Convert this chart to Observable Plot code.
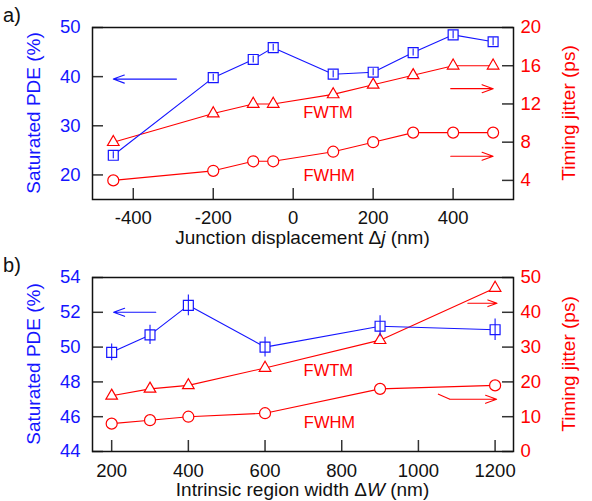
<!DOCTYPE html>
<html><head><meta charset="utf-8">
<script src="https://cdn.jsdelivr.net/npm/d3@7"></script>
<script src="https://cdn.jsdelivr.net/npm/@observablehq/plot@0.6"></script>
<style>
body{margin:0;background:#fff}
#chart{width:592px;height:501px}
#chart svg{display:block}
</style>
</head><body><div id="chart"></div>
<script>
// ---------- Panel a data ----------
const aX = [-450, -200, -100, -50, 100, 200, 300, 400, 500];
const aPDE = [24.0, 39.8, 43.5, 45.9, 40.5, 40.9, 44.9, 48.5, 47.1];
const aPDEerr = [0.7, 0.7, 0.7, 0.7, 0.7, 0.7, 0.7, 0.8, 0.8];
const aFWTM = [8, 11, 12, 12, 13, 14, 15, 16, 16];
const aFWHM = [4, 5, 6, 6, 7, 8, 9, 9, 9];
const aXTicks = [-400, -200, 0, 200, 400];
const aLeftTicks = [20, 30, 40, 50];
const aRightTicks = [4, 8, 12, 16, 20];

// ---------- Panel b data ----------
const bX = [200, 300, 400, 600, 900, 1200];
const bPDE = [49.7, 50.7, 52.4, 50.0, 51.2, 51.0];
const bPDEerr = [0.48, 0.55, 0.6, 0.57, 0.6, 0.62];
const bFWTM = [16, 18, 19, 24, 32, 47];
const bFWHM = [8, 9, 10, 11, 18, 19];
const bXTicks = [200, 400, 600, 800, 1000, 1200];
const bLeftTicks = [44, 46, 48, 50, 52, 54];
const bRightTicks = [0, 10, 20, 30, 40, 50];

const FONT = "'Liberation Sans', Arial, Helvetica, sans-serif";
const BLUE = "#1515ff", RED = "#ff0000";
const W = 592, ML = 92, MR = 79;
const FW = W - ML - MR;

function panel(cfg) {
  const {x, pde, err, fwtm, fwhm, xDomain, lDomain, rDomain, xTicks, lTicks, rTicks,
         height, mt, mb, xPad, arrowsL, arrowsR, segsR, labels, xTitle, xItal, xTitleY, tag} = cfg;
  const [l0, l1] = lDomain, [r0, r1] = rDomain;
  const toL = r => l0 + (r - r0) * (l1 - l0) / (r1 - r0);
  const fromL = l => r0 + (l - l0) * (r1 - r0) / (l1 - l0);
  const FH = height - mt - mb;
  const rows = x.map((v, i) => ({x: v, pde: pde[i], err: err[i], fwtm: toL(fwtm[i]), fwhm: toL(fwhm[i])}));
  const svg = Plot.plot({
    width: W, height, marginLeft: ML, marginRight: MR, marginTop: mt, marginBottom: mb,
    style: {fontFamily: FONT, fontSize: "18.5px", background: "#fff", overflow: "visible"},
    x: {domain: xDomain}, y: {domain: lDomain},
    marks: [
      Plot.tickY(lTicks, {y: d => d, insetRight: FW - 11, stroke: "#333", strokeWidth: 1.5}),
      Plot.tickY(rTicks.map(toL), {y: d => d, insetLeft: FW - 11, stroke: "#333", strokeWidth: 1.5}),
      Plot.tickX(xTicks, {x: d => d, insetTop: FH - 11, stroke: "#333", strokeWidth: 1.5}),
      Plot.axisY(lTicks, {anchor: "left", tickSize: 0, tickPadding: 12, fill: BLUE, label: null, tickFormat: d => String(d)}),
      Plot.axisY(rTicks.map(toL), {anchor: "right", tickSize: 0, tickPadding: 7, fill: RED, label: null, tickFormat: d => String(Math.round(fromL(d)))}),
      Plot.axisX(xTicks, {anchor: "bottom", tickSize: 0, tickPadding: xPad, fill: "#111", label: null, tickFormat: d => String(d)}),
      Plot.line(rows, {x: "x", y: "fwhm", stroke: RED, strokeWidth: 1.1}),
      Plot.line(rows, {x: "x", y: "fwtm", stroke: RED, strokeWidth: 1.1}),
      Plot.line(rows, {x: "x", y: "pde", stroke: BLUE, strokeWidth: 1.1}),
      Plot.dot(rows, {x: "x", y: "fwhm", r: 5.5, stroke: RED, fill: "white", strokeWidth: 1.2}),
      Plot.dot(rows, {x: "x", y: "fwtm", r: 4.3, symbol: "triangle", stroke: RED, fill: "white", strokeWidth: 1.2}),
      Plot.dot(rows, {x: "x", y: "pde", r: 5.6, symbol: "square", stroke: BLUE, fill: "white", strokeWidth: 1.2}),
      Plot.ruleX(rows, {x: "x", y1: d => d.pde - d.err, y2: d => d.pde + d.err, stroke: BLUE, strokeWidth: 1.1}),
      Plot.arrow(arrowsL, {x1: "x1", x2: "x2", y1: "y", y2: "y", stroke: BLUE, strokeWidth: 1.1, headAngle: 40, headLength: 16}),
      Plot.arrow(arrowsR, {x1: "x1", x2: "x2", y1: d => toL(d.y1 ?? d.y), y2: d => toL(d.y), stroke: RED, strokeWidth: 1.1, headAngle: 40, headLength: 16}),
      Plot.link(segsR, {x1: "x1", x2: "x2", y1: d => toL(d.y1), y2: d => toL(d.y2), stroke: RED, strokeWidth: 1.1}),
      Plot.text(labels, {x: "x", y: d => toL(d.y), text: "t", fill: RED, fontSize: 16.5}),
      Plot.frame({stroke: "#111", strokeWidth: 1.5})
    ]
  });
  const s = d3.select(svg);
  const cx = ML + FW / 2;
  const t = s.append("text").attr("x", cx).attr("y", xTitleY).attr("text-anchor", "middle")
    .attr("fill", "#111").style("font-family", FONT).style("font-size", "19px");
  t.append("tspan").text(xTitle);
  t.append("tspan").attr("font-style", "italic").text(xItal);
  t.append("tspan").text(" (nm)");
  const cy = mt + FH / 2;
  s.append("text").attr("transform", `translate(33.5,${cy}) rotate(-90)`).attr("text-anchor", "middle")
    .attr("dominant-baseline", "central").attr("fill", BLUE).style("font-family", FONT).style("font-size", "19px")
    .text("Saturated PDE (%)");
  s.append("text").attr("transform", `translate(568.5,${cy}) rotate(-90)`).attr("text-anchor", "middle")
    .attr("dominant-baseline", "central").attr("fill", RED).style("font-family", FONT).style("font-size", "19px")
    .text("Timing jitter (ps)");
  s.append("text").attr("x", 12).attr("y", 22).attr("fill", "#111").style("font-family", FONT).style("font-size", "20px").text(tag);
  return svg;
}

const el = document.getElementById("chart");
el.append(panel({
  x: aX, pde: aPDE, err: aPDEerr, fwtm: aFWTM, fwhm: aFWHM,
  xDomain: [-502, 551], lDomain: [15, 50], rDomain: [2, 20],
  xTicks: aXTicks, lTicks: aLeftTicks, rTicks: aRightTicks,
  height: 250, mt: 27, mb: 51, xPad: 11,
  arrowsL: [{x1: -292, x2: -450, y: 39.5}],
  arrowsR: [{x1: 394, x2: 500, y: 13.6}, {x1: 394, x2: 500, y: 6.53}],
  segsR: [],
  labels: [{x: 87, y: 11.05, t: "FWTM"}, {x: 90, y: 4.52, t: "FWHM"}],
  xTitle: "Junction displacement Δ", xItal: "j", xTitleY: 244, tag: "a)"
}));
el.append(panel({
  x: bX, pde: bPDE, err: bPDEerr, fwtm: bFWTM, fwhm: bFWHM,
  xDomain: [150, 1248], lDomain: [44, 54], rDomain: [0, 50],
  xTicks: bXTicks, lTicks: bLeftTicks, rTicks: bRightTicks,
  height: 251, mt: 27, mb: 50, xPad: 12,
  arrowsL: [{x1: 315, x2: 205, y: 52}],
  arrowsR: [{x1: 1129, x2: 1205, y: 42.6}, {x1: 1082, x2: 1204, y: 15.0}],
  segsR: [{x1: 1051, y1: 16.5, x2: 1082, y2: 15.0}],
  labels: [{x: 765, y: 23.1, t: "FWTM"}, {x: 768, y: 8.2, t: "FWHM"}],
  xTitle: "Intrinsic region width Δ", xItal: "W", xTitleY: 246, tag: "b)"
}));
</script>
</body></html>
